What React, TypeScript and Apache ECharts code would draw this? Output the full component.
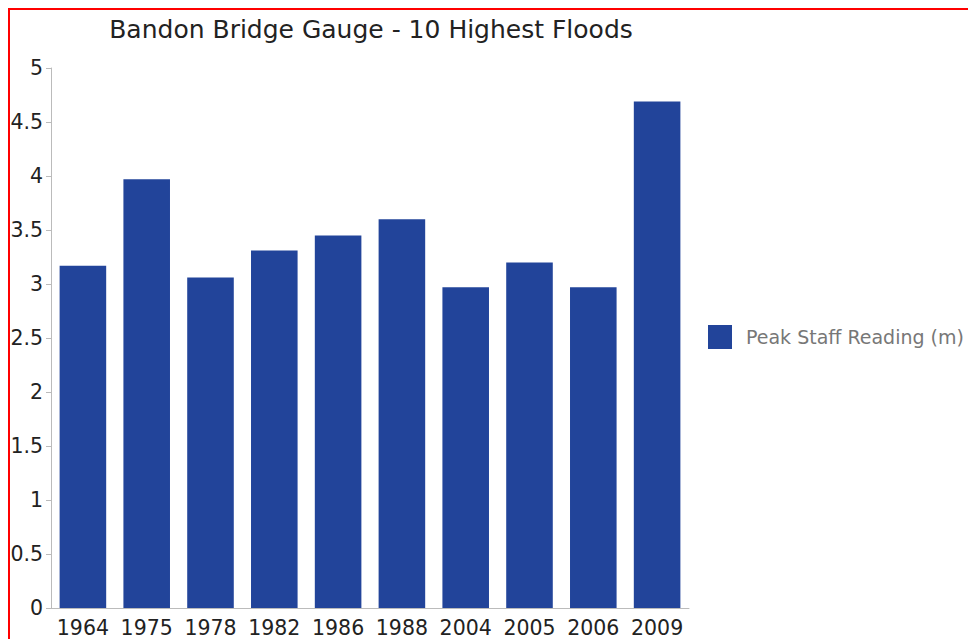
import React, { useEffect, useRef } from "react";
import * as echarts from "echarts";

const categories = ["1964", "1975", "1978", "1982", "1986", "1988", "2004", "2005", "2006", "2009"];
const peakValues = [3.17, 3.97, 3.06, 3.31, 3.45, 3.6, 2.97, 3.2, 2.97, 4.69];
const seriesName = "Peak Staff Reading (m)";
const titleText = "Bandon Bridge Gauge - 10 Highest Floods";

export default function App() {
  const ref = useRef<HTMLDivElement>(null);
  useEffect(() => {
    if (!ref.current) return;
    const chart = echarts.init(ref.current, undefined, { renderer: "svg" });
    const font = "DejaVu Sans, Liberation Sans, sans-serif";
    chart.setOption({
      animation: false,
      backgroundColor: "#ffffff",
      title: {
        text: titleText,
        left: 371,
        top: 17,
        padding: 0,
        textAlign: "center",
        textStyle: { fontFamily: font, fontSize: 25, fontWeight: "normal", color: "#222" },
      },
      legend: {
        orient: "vertical",
        left: 708,
        top: 325,
        padding: 0,
        itemWidth: 24,
        itemHeight: 24,
        icon: "rect",
        data: [seriesName],
        textStyle: { fontFamily: font, fontSize: 19, color: "#777", padding: [0, 0, 0, 9] },
      },
      grid: { left: 51, right: 279, top: 68, bottom: 31, containLabel: false },
      xAxis: {
        type: "category",
        data: categories,
        axisLine: { lineStyle: { color: "#bbb", width: 1 } },
        axisTick: { alignWithLabel: true, length: 5, lineStyle: { color: "#bbb" } },
        axisLabel: { fontFamily: font, fontSize: 20.5, color: "#222", margin: 9, interval: 0 },
      },
      yAxis: {
        type: "value",
        min: 0,
        max: 5,
        interval: 0.5,
        splitLine: { show: false },
        axisLine: { show: true, lineStyle: { color: "#bbb", width: 1 } },
        axisTick: { show: true, length: 5, lineStyle: { color: "#bbb" } },
        axisLabel: { fontFamily: font, fontSize: 20.5, color: "#222", margin: 8 },
      },
      series: [
        {
          name: seriesName,
          type: "bar",
          data: peakValues,
          barCategoryGap: "27%",
          itemStyle: { color: "#22449a" },
        },
      ],
    });
    return () => chart.dispose();
  }, []);
  return (
    <div style={{ position: "fixed", left: 0, top: 0, width: 968, height: 639, overflow: "hidden", background: "#fff" }}>
      <div ref={ref} style={{ position: "absolute", left: 0, top: 0, width: 968, height: 639 }} />
      <div
        style={{
          position: "absolute",
          left: 8,
          top: 8,
          width: 1200,
          height: 1200,
          borderLeft: "2px solid #f00",
          borderTop: "2px solid #f00",
          pointerEvents: "none",
        }}
      />
    </div>
  );
}
